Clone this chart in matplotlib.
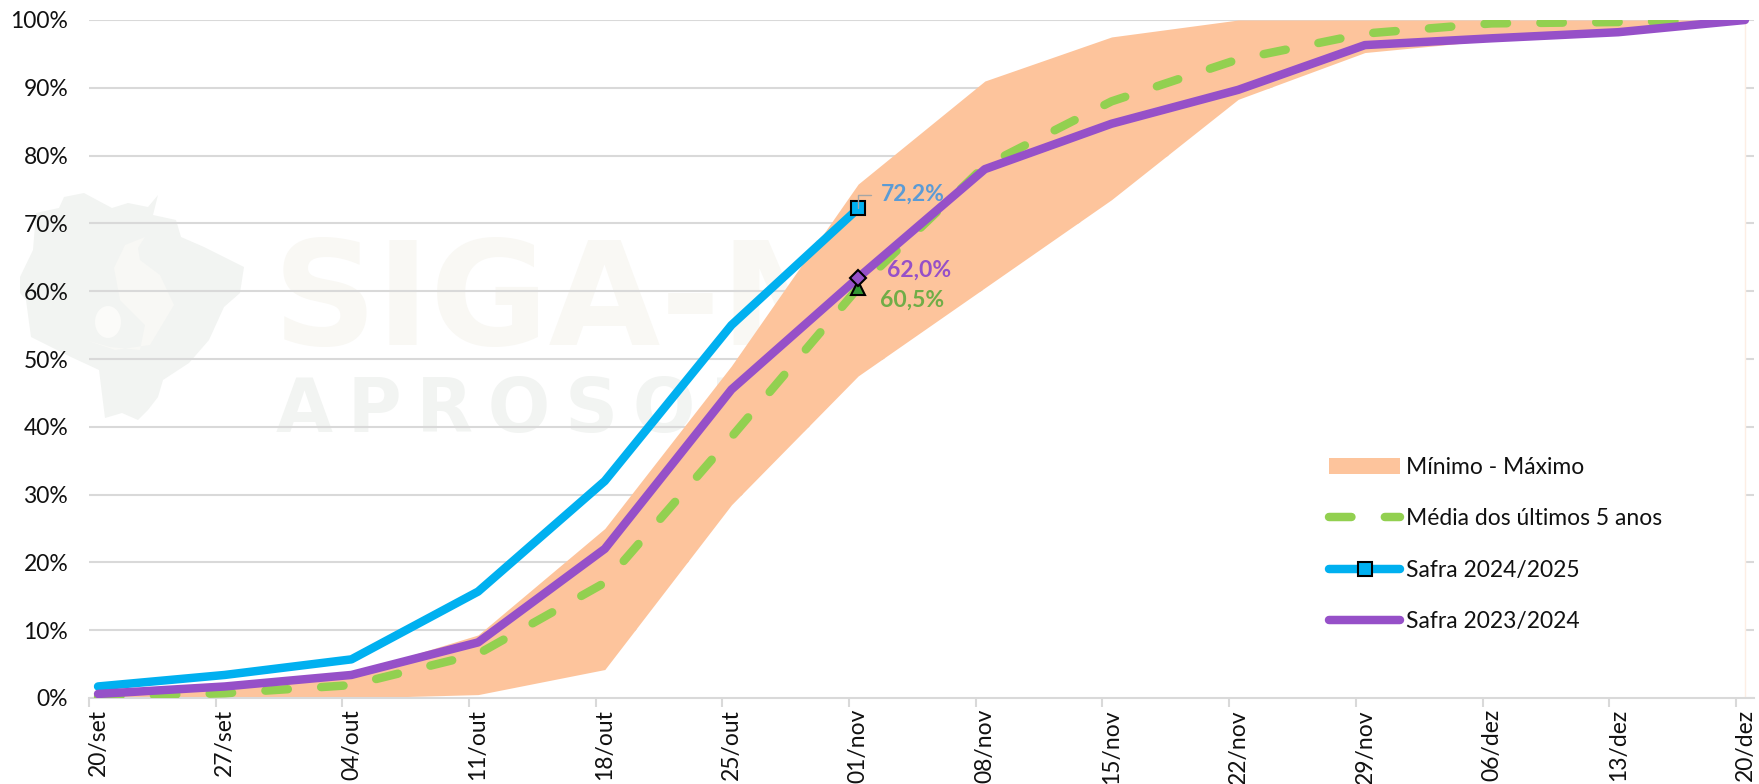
#!/usr/bin/env python3
"""Curva de progresso da safra: faixa minimo-maximo, media e duas safras."""

import matplotlib

matplotlib.use("Agg")

import matplotlib.pyplot as plt
from matplotlib.lines import Line2D
from matplotlib.patches import Ellipse, Patch, Polygon
import numpy as np

WIDTH, HEIGHT = 1759, 784

DATES = [
    "20/set", "27/set", "04/out", "11/out", "18/out", "25/out", "01/nov",
    "08/nov", "15/nov", "22/nov", "29/nov", "06/dez", "13/dez", "20/dez",
]

MINIMO = [0.0, 0.0, 0.0, 0.5, 4.2, 28.5, 47.5, 60.5, 73.5, 88.3, 95.2, 97.0, 98.0, 100.0]
MAXIMO = [0.6, 1.8, 3.6, 9.3, 25.0, 49.0, 75.8, 91.0, 97.5, 100.0, 100.0, 100.0, 100.0, 100.0]
MEDIA = [0.2, 0.7, 1.9, 6.5, 17.0, 38.5, 60.5, 78.5, 88.0, 94.2, 98.0, 99.5, 99.7, 100.0]
SAFRA_2425 = [1.7, 3.4, 5.7, 15.7, 32.0, 55.0, 72.2]
SAFRA_2324 = [0.6, 1.7, 3.4, 8.2, 22.0, 45.5, 62.0, 78.0, 84.7, 89.7, 96.3, 97.3, 98.2, 100.0]

# contorno da marca d'agua, em pixels da figura
MAP_OUTLINE = [
    (20, 277), (33, 250), (36, 213), (59, 208), (64, 197), (84, 193), (97, 200),
    (112, 208), (128, 203), (148, 207), (158, 195), (153, 215), (176, 220),
    (181, 237), (204, 247), (224, 257), (244, 267), (240, 293), (224, 307),
    (209, 340), (189, 363), (163, 380), (158, 397), (148, 410), (138, 420),
    (122, 413), (105, 418), (99, 370), (71, 357), (31, 337), (26, 300), (20, 293),
]
SWIRL = [
    (145, 237), (125, 245), (114, 268), (120, 300), (145, 325), (140, 350),
    (110, 347), (85, 340), (115, 350), (150, 345), (174, 305), (160, 275),
    (140, 260), (138, 248),
]

ORANGE = "#fdc49c"
GREEN = "#92d050"
BLUE = "#00b0f0"
PURPLE = "#9650c8"
GRID = "#d9d9d9"


def px(x, y):
    return x / WIDTH, 1 - y / HEIGHT


def main():
    plt.rcParams["font.family"] = ["Lato", "DejaVu Sans"]
    plt.rcParams["font.size"] = 16.5

    fig = plt.figure(figsize=(WIDTH / 100, HEIGHT / 100), dpi=100)
    ax = fig.add_axes([89 / WIDTH, 86 / HEIGHT, (1754 - 89) / WIDTH, (698 - 20) / HEIGHT])

    days = np.arange(len(DATES)) * 7

    # marca d'agua por baixo de tudo
    trans = fig.transFigure
    ax.add_patch(Polygon([px(*p) for p in MAP_OUTLINE], transform=trans, clip_on=False,
                         fc="#f2f4f2", ec="none", zorder=0.1))
    ax.add_patch(Polygon([px(*p) for p in SWIRL], transform=trans, clip_on=False,
                         fc="#f8f8f5", ec="none", zorder=0.2))
    ax.add_patch(Ellipse(px(108, 322), 26 / WIDTH, 32 / HEIGHT, transform=trans,
                         fc="#fbfbf9", ec="none", zorder=0.2))
    ax.text(*px(273, 345), "SIGA-M", transform=trans, family="DejaVu Sans", weight="bold",
            fontsize=104, color="#f9f8f4", ha="left", va="baseline", zorder=0.3)
    ax.text(*px(276, 432), "A\u2009P\u2009R\u2009O\u2009S\u2009O\u2009J\u2009A", transform=trans,
            family="DejaVu Sans", weight="bold", fontsize=53, color="#f2f4f2",
            ha="left", va="baseline", zorder=0.3)

    ax.set_axisbelow(True)
    ax.grid(axis="y", color=GRID, lw=1.5, zorder=0.5)

    # area branca abaixo do minimo esconde as grades, como no grafico empilhado
    ax.fill_between(days, 0, MINIMO, color="white", lw=0, zorder=1)
    ax.fill_between(days, MINIMO, MAXIMO, color=ORANGE, lw=0, zorder=1.1)
    ax.plot([days[-1], days[-1]], [0, 100], color="#fdeee4", lw=1, zorder=1.2)

    lw = 6.1
    dashes = (2.65, 3.94)
    ax.plot(days, MEDIA, color=GREEN, lw=lw, dashes=dashes, dash_capstyle="round", zorder=2)
    ax.plot(days[: len(SAFRA_2425)], SAFRA_2425, color=BLUE, lw=lw, solid_capstyle="round", zorder=3)
    ax.plot(days, SAFRA_2324, color=PURPLE, lw=lw, solid_capstyle="round", zorder=4)

    last = len(SAFRA_2425) - 1
    ax.plot(days[last], SAFRA_2425[last], "s", ms=10, mfc=BLUE, mec="black", mew=1.5, zorder=6)
    ax.plot(days[last], MEDIA[last], "^", ms=10, mfc="#339933", mec="black", mew=1.5, zorder=5)
    ax.plot(days[last], SAFRA_2324[last], "D", ms=8, mfc=PURPLE, mec="black", mew=1.5, zorder=6)

    ax.annotate(
        "72,2%", xy=(days[last], SAFRA_2425[last]), xytext=(16, 10), textcoords="offset points",
        color="#5b9bd5", weight="bold", va="center", ha="left", zorder=7,
        arrowprops=dict(arrowstyle="-", color="#a6a6a6", lw=1, shrinkA=5, shrinkB=0,
                        relpos=(0, 0.5), connectionstyle="angle,angleA=0,angleB=90,rad=0"),
    )
    ax.annotate("62,0%", xy=(days[last], SAFRA_2324[last]), xytext=(21, 5), textcoords="offset points",
                color=PURPLE, weight="bold", va="center", ha="left", zorder=7)
    ax.annotate("60,5%", xy=(days[last], MEDIA[last]), xytext=(16, -9), textcoords="offset points",
                color="#70ad47", weight="bold", va="center", ha="left", zorder=7)

    ax.set_xlim(days[0] - 0.5, days[-1] + 0.5)
    ax.set_ylim(0, 100)

    # marcas nas bordas de cada dia, rotulos no centro
    ax.set_xticks(days - 0.5)
    ax.set_xticklabels([])
    ax.tick_params(axis="x", which="major", length=6.5, width=1.5, color=GRID)
    ax.set_xticks(days, minor=True)
    ax.set_xticklabels(DATES, minor=True, rotation=90, ha="center", va="top")
    ax.tick_params(axis="x", which="minor", length=0, pad=8, labelcolor="#111111")

    ax.set_yticks(np.arange(0, 101, 10))
    ax.set_yticklabels([f"{v}%" for v in range(0, 101, 10)])
    ax.tick_params(axis="y", length=0, pad=15, labelcolor="#111111")

    for side in ["top", "right", "left"]:
        ax.spines[side].set_visible(False)
    ax.spines["bottom"].set_color(GRID)
    ax.spines["bottom"].set_linewidth(1.5)
    ax.spines["bottom"].set_zorder(1.5)

    handles = [
        Patch(fc=ORANGE, ec="none"),
        Line2D([], [], color=GREEN, lw=lw, dashes=dashes, dash_capstyle="round"),
        Line2D([], [], color=BLUE, lw=lw, solid_capstyle="round", marker="s", ms=10,
               mfc=BLUE, mec="black", mew=1.5),
        Line2D([], [], color=PURPLE, lw=lw, solid_capstyle="round"),
    ]
    labels = ["Mínimo - Máximo", "Média dos últimos 5 anos", "Safra 2024/2025", "Safra 2023/2024"]
    leg = ax.legend(handles, labels, loc="upper left", bbox_to_anchor=px(1329, 457),
                    bbox_transform=fig.transFigure, frameon=False, handlelength=3.1,
                    handletextpad=0.25, labelspacing=1.33, borderpad=0, borderaxespad=0,
                    labelcolor="#111111")
    leg.set_zorder(8)

    fig.savefig("out.png", dpi=100)
    plt.close(fig)


if __name__ == "__main__":
    main()
